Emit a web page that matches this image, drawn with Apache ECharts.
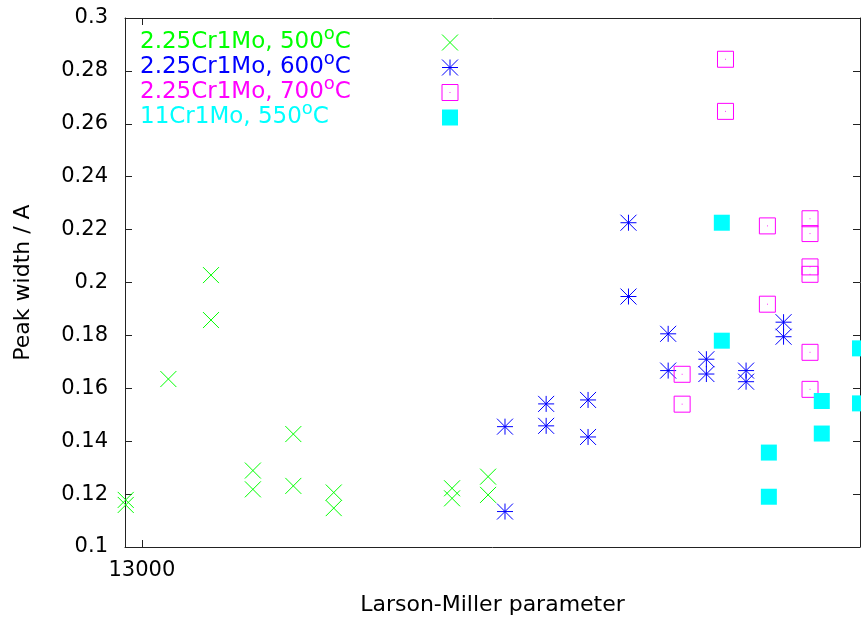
<!DOCTYPE html>
<html>
<head>
<meta charset="utf-8">
<script src="https://cdn.jsdelivr.net/npm/echarts@6/dist/echarts.min.js"></script>
<style>
  html, body { margin: 0; padding: 0; background: #fff; }
  #chart { width: 861px; height: 625px; }
</style>
</head>
<body>
<div id="chart"></div>
<script>
// series names (legend)
var names = ['2.25Cr1Mo, 500°C', '2.25Cr1Mo, 600°C', '2.25Cr1Mo, 700°C', '11Cr1Mo, 550°C'];
var colors = ['#00ff00', '#0000ff', '#ff00ff', '#00ffff'];

// 2.25Cr1Mo, 500C
var x500 = [12978, 12978, 13036, 13094, 13094, 13151, 13151, 13206, 13206, 13261, 13261, 13422, 13422, 13471, 13471];
var y500 = [0.1178, 0.1159, 0.1635, 0.2028, 0.1858, 0.1289, 0.1218, 0.1427, 0.1231, 0.1206, 0.1147, 0.1222, 0.1184, 0.1266, 0.1197];
// 2.25Cr1Mo, 600C
var x600 = [13494, 13494, 13550, 13550, 13607, 13607, 13662, 13662, 13716, 13716, 13768, 13768, 13822, 13822, 13873, 13873];
var y600 = [0.1455, 0.1134, 0.1541, 0.1458, 0.1556, 0.1416, 0.2226, 0.1947, 0.1806, 0.1667, 0.1710, 0.1654, 0.1667, 0.1625, 0.1850, 0.1795];
// 2.25Cr1Mo, 700C
var x700 = [13794, 13794, 13735, 13735, 13851, 13851, 13909, 13909, 13909, 13909, 13909, 13909];
var y700 = [0.2844, 0.2647, 0.1653, 0.1540, 0.2214, 0.1918, 0.2241, 0.2185, 0.2059, 0.2031, 0.1736, 0.1596];
// 11Cr1Mo, 550C
var x550 = [13789, 13789, 13853, 13853, 13925, 13925, 13977, 13977];
var y550 = [0.2226, 0.1780, 0.1357, 0.1190, 0.1552, 0.1429, 0.1751, 0.1543];

var xTicks = [13000];

function pairs(xs, ys) {
    return xs.map(function (x, i) { return [x, ys[i]]; });
}

var font = 'DejaVu Sans';
var crossPath = 'path://M0,0L20,20M20,0L0,20';
var starPath = 'path://M10,0L10,20M0,10L20,10M0,0L20,20M20,0L0,20';
var boxPath = 'path://M0,0L20,0L20,20L0,20Z M9.5,10L10.5,10';

var chart = echarts.init(document.getElementById('chart'));

var legends = names.map(function (n, i) {
    return {
        data: [n],
        left: 140,
        top: [25, 50, 75, 100][i],
        padding: 0,
        align: 'right',
        itemWidth: 16,
        itemHeight: 16,
        selectedMode: false,
        itemStyle: { borderWidth: 1 },
        formatter: function (name) {
            var parts = name.split('°');
            return '{t|' + parts[0] + '}{sup|o}{t|' + parts[1] + '}';
        },
        textStyle: {
            color: colors[i],
            fontFamily: font,
            fontSize: 23,
            lineHeight: 35,
            width: 297,
            rich: {
                t: { fontFamily: font, fontSize: 23, lineHeight: 35, align: 'left', color: colors[i] },
                sup: { fontFamily: font, fontSize: 18, lineHeight: 18, verticalAlign: 'top', align: 'left', color: colors[i] }
            }
        }
    };
});

var axisLineStyle = { color: '#222', width: 1 };

var option = {
    backgroundColor: '#fff',
    animation: false,
    legend: legends,
    grid: { left: 125, right: 1, top: 18, bottom: 78 },
    xAxis: [
        {
            type: 'value',
            min: 12977,
            max: 13977,
            name: 'Larson-Miller parameter',
            nameLocation: 'middle',
            nameGap: 47,
            nameTextStyle: { fontFamily: font, fontSize: 22, color: '#000' },
            axisLine: { show: true, onZero: false, lineStyle: axisLineStyle },
            axisTick: { show: true, inside: true, length: 7, customValues: xTicks, lineStyle: axisLineStyle },
            axisLabel: {
                customValues: xTicks, fontFamily: font, fontSize: 21, color: '#000', margin: 13,
                formatter: function (v) { return String(v); }
            },
            splitLine: { show: false }
        },
        {
            type: 'value',
            position: 'top',
            min: 12977,
            max: 13977,
            axisLine: { show: true, onZero: false, lineStyle: axisLineStyle },
            axisTick: { show: true, inside: true, length: 7, customValues: xTicks, lineStyle: axisLineStyle },
            axisLabel: { show: false },
            splitLine: { show: false }
        }
    ],
    yAxis: [
        {
            type: 'value',
            min: 0.1,
            max: 0.3,
            interval: 0.02,
            name: 'Peak width / A',
            nameLocation: 'middle',
            nameGap: 91,
            nameTextStyle: { fontFamily: font, fontSize: 22, color: '#000' },
            axisLine: { show: true, onZero: false, lineStyle: axisLineStyle },
            axisTick: { show: true, inside: true, length: 7, lineStyle: axisLineStyle },
            axisLabel: { fontFamily: font, fontSize: 21, color: '#000', margin: 17 },
            splitLine: { show: false }
        },
        {
            type: 'value',
            position: 'right',
            min: 0.1,
            max: 0.3,
            interval: 0.02,
            axisLine: { show: true, onZero: false, lineStyle: axisLineStyle },
            axisTick: { show: true, inside: true, length: 7, lineStyle: axisLineStyle },
            axisLabel: { show: false },
            splitLine: { show: false }
        }
    ],
    series: [
        {
            name: names[0], type: 'scatter', clip: false,
            symbol: crossPath, symbolSize: 16,
            itemStyle: { color: 'rgba(0,0,0,0)', borderColor: colors[0], borderWidth: 1, opacity: 1 },
            emphasis: { disabled: true },
            data: pairs(x500, y500)
        },
        {
            name: names[1], type: 'scatter', clip: false,
            symbol: starPath, symbolSize: 16,
            itemStyle: { color: 'rgba(0,0,0,0)', borderColor: colors[1], borderWidth: 1, opacity: 1 },
            emphasis: { disabled: true },
            data: pairs(x600, y600)
        },
        {
            name: names[2], type: 'scatter', clip: false,
            symbol: boxPath, symbolSize: 16,
            itemStyle: { color: 'rgba(0,0,0,0)', borderColor: colors[2], borderWidth: 1, opacity: 1 },
            emphasis: { disabled: true },
            data: pairs(x700, y700)
        },
        {
            name: names[3], type: 'scatter', clip: false,
            symbol: 'rect', symbolSize: 16,
            itemStyle: { color: colors[3], opacity: 1 },
            emphasis: { disabled: true },
            data: pairs(x550, y550)
        }
    ]
};

chart.setOption(option);
window.addEventListener('resize', chart.resize);
</script>
</body>
</html>
